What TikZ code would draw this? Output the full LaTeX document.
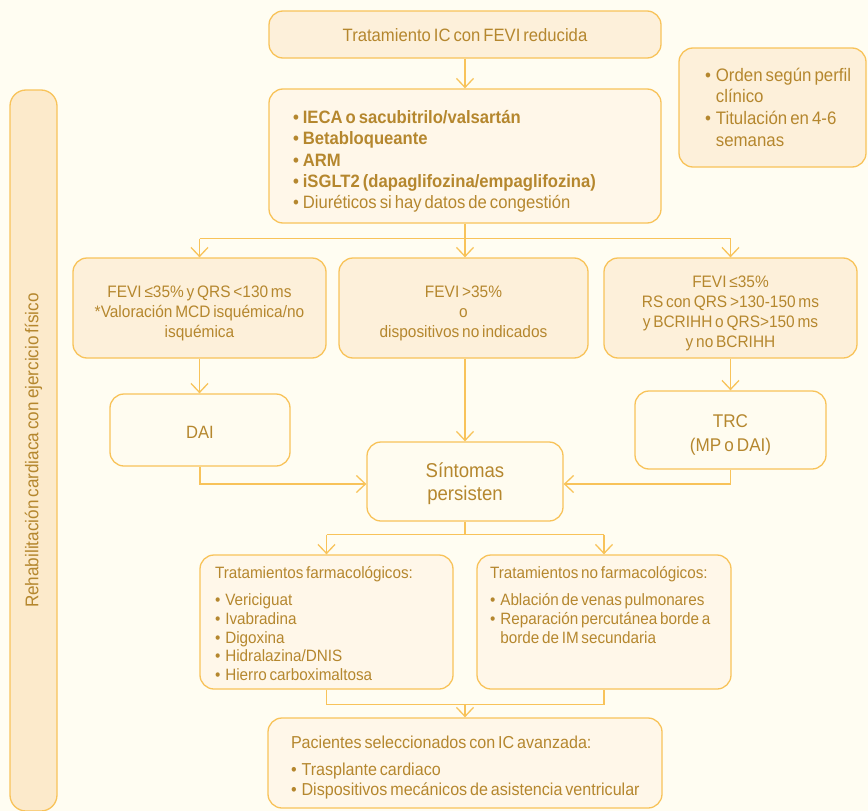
\documentclass[tikz,border=0pt]{standalone}
\usepackage{fontspec}
\setmainfont{Liberation Sans}[FakeStretch=0.93,WordSpace=0.65]
\usetikzlibrary{arrows.meta,calc}
\definecolor{bg}{HTML}{FFFDF2}
\definecolor{bord}{HTML}{F8C35A}
\definecolor{txt}{HTML}{B5872E}
\definecolor{fillS}{HTML}{FDF0DA}
\definecolor{fillL}{HTML}{FFF7E9}
\definecolor{fillP}{HTML}{FFFCF0}
\definecolor{fillBar}{HTML}{FCEACB}
\newcommand\lowerit[2][5pt]{\raisebox{-#1}[\height][\depth]{\spaceskip=0pt\xspaceskip=0pt\relax #2}}
\begin{document}
\begin{tikzpicture}[x=1pt,y=-1pt,
  box/.style={draw=bord, line width=1.3pt, rounded corners=14pt, text=txt, align=center, inner sep=0pt},
  conn/.style={draw=bord, line width=1.3pt},
  arr/.style={-{Straight Barb[length=9pt,width=17pt]}},
  fcond/.style={font=\fontsize{16.6}{20}\selectfont},
  fbig/.style={font=\fontsize{17.9}{21.3}\selectfont},
  ftreat/.style={font=\fontsize{16.4}{18.7}\selectfont},
]
\useasboundingbox (0,0) rectangle (868,811);
\fill[bg] (0,0) rectangle (868,811);

% left bar
\node[box, fill=fillBar, rounded corners=16pt, rotate=90, minimum width=721pt, minimum height=47pt,
  font=\fontsize{18.4}{22}\selectfont] (bar) at (33.5,450.5) {Rehabilitación cardiaca con ejercicio físico};

% top
\node[box, fill=fillS, minimum width=392pt, minimum height=47pt, fbig] (top) at (465,34.5) {\lowerit[1pt]{Tratamiento IC con FEVI reducida}};

% list
\node[box, fill=fillL, minimum width=392pt, minimum height=134pt, text width=344pt, align=left, fbig] (list) at (465,156)
{\lowerit[6pt]{\begin{tabular}{@{}l@{\hspace{4pt}}l@{}}
\textbf{•} & \textbf{IECA o sacubitrilo/valsartán}\\
\textbf{•} & \textbf{Betabloqueante}\\
\textbf{•} & \textbf{ARM}\\
\textbf{•} & \textbf{iSGLT2 (dapaglifozina/empaglifozina)}\\
• & Diuréticos si hay datos de congestión
\end{tabular}}};

% note
\node[box, fill=fillS, minimum width=187pt, minimum height=119pt, text width=135pt, align=left,
  font=\fontsize{18.1}{21.7}\selectfont] (note) at (772.5,107.5)
{\lowerit[2pt]{\begin{tabular}{@{}l@{\hspace{5pt}}l@{}}
• & Orden según perfil\\
  & clínico\\
• & Titulación en 4-6\\
  & semanas
\end{tabular}}};

% conditions
\node[box, fill=fillS, minimum width=253pt, minimum height=100pt, fcond] (c1) at (199.5,308)
{\lowerit{\begin{tabular}{@{}c@{}}FEVI ≤35\% y QRS <130 ms\\{}*Valoración MCD isquémica/no\\isquémica\end{tabular}}};
\node[box, fill=fillS, minimum width=249pt, minimum height=100pt, fcond] (c2) at (463.5,308)
{\lowerit{\begin{tabular}{@{}c@{}}FEVI >35\%\\o\\dispositivos no indicados\end{tabular}}};
\node[box, fill=fillS, minimum width=253pt, minimum height=100pt, fcond] (c3) at (730.5,308)
{\lowerit{\begin{tabular}{@{}c@{}}FEVI ≤35\%\\RS con QRS >130-150 ms\\y BCRIHH o QRS>150 ms\\y no BCRIHH\end{tabular}}};

% devices
\node[box, fill=fillP, minimum width=180pt, minimum height=72pt, font=\fontsize{17.8}{22}\selectfont] (dai) at (200,430) {\lowerit[2pt]{DAI}};
\node[box, fill=fillP, minimum width=191pt, minimum height=78pt, font=\fontsize{18.4}{24}\selectfont] (trc) at (730.5,430)
{\lowerit{\begin{tabular}{@{}c@{}}TRC\\(MP o DAI)\end{tabular}}};
\node[box, fill=fillP, minimum width=196pt, minimum height=79pt, font=\fontsize{20}{23}\selectfont] (sin) at (465,481.5)
{\lowerit[3pt]{\begin{tabular}{@{}c@{}}Síntomas\\persisten\end{tabular}}};

% treatments
\node[box, fill=fillL, minimum width=253pt, minimum height=134pt, text width=223pt, align=left, ftreat] (far) at (326.5,622)
{\lowerit[4pt]{\begin{tabular}{@{}l@{\hspace{5pt}}l@{}}
\multicolumn{2}{@{}l@{}}{Tratamientos farmacológicos:}\\[8pt]
• & Vericiguat\\
• & Ivabradina\\
• & Digoxina\\
• & Hidralazina/DNIS\\
• & Hierro carboximaltosa
\end{tabular}}};
\node[box, fill=fillL, minimum width=254pt, minimum height=134pt, text width=228pt, align=left, ftreat] (nof) at (604,622)
{\lowerit[4pt]{\begin{tabular}{@{}l@{\hspace{5pt}}l@{}}
\multicolumn{2}{@{}l@{}}{Tratamientos no farmacológicos:}\\[8pt]
• & Ablación de venas pulmonares\\
• & Reparación percutánea borde a\\
  & borde de IM secundaria\\
  & \\
  &
\end{tabular}}};

% bottom
\node[box, fill=fillL, minimum width=394pt, minimum height=90pt, text width=348pt, align=left,
  font=\fontsize{17.3}{20}\selectfont] (bot) at (465,763)
{\lowerit[5pt]{\begin{tabular}{@{}l@{\hspace{5pt}}l@{}}
\multicolumn{2}{@{}l@{}}{Pacientes seleccionados con IC avanzada:}\\[7pt]
• & Trasplante cardiaco\\
• & Dispositivos mecánicos de asistencia ventricular
\end{tabular}}};

% connectors
\draw[conn,arr] (top.south) -- (list.north);
\draw[conn] (list.south) -- ++(0,15) coordinate (hubA);
\draw[conn] (c1.north |- hubA) -- (c3.north |- hubA);
\draw[conn,arr] (c1.north |- hubA) -- (c1.north);
\draw[conn,arr] (hubA) -- (hubA |- c2.north);
\draw[conn,arr] (c3.north |- hubA) -- (c3.north);

\draw[conn,arr] (c1.south) -- (c1.south |- dai.north);
\draw[conn,arr] (c2.south -| sin.north) -- (sin.north);
\draw[conn,arr] (c3.south) -- (c3.south |- trc.north);
\draw[conn,arr] (dai.south) |- ($(sin.west)+(0,2.5)$);
\draw[conn,arr] (trc.south) |- ($(sin.east)+(0,2.5)$);

\draw[conn] (sin.south) -- ++(0,13) coordinate (hubB);
\draw[conn] (far.north |- hubB) -- (nof.north |- hubB);
\draw[conn,arr] (far.north |- hubB) -- (far.north);
\draw[conn,arr] (nof.north |- hubB) -- (nof.north);

\draw[conn] (far.south) -- ++(0,15) coordinate (hubC) -- (nof.south |- hubC) -- (nof.south);
\draw[conn,arr] (hubC -| bot.north) -- (bot.north);
\end{tikzpicture}
\end{document}
